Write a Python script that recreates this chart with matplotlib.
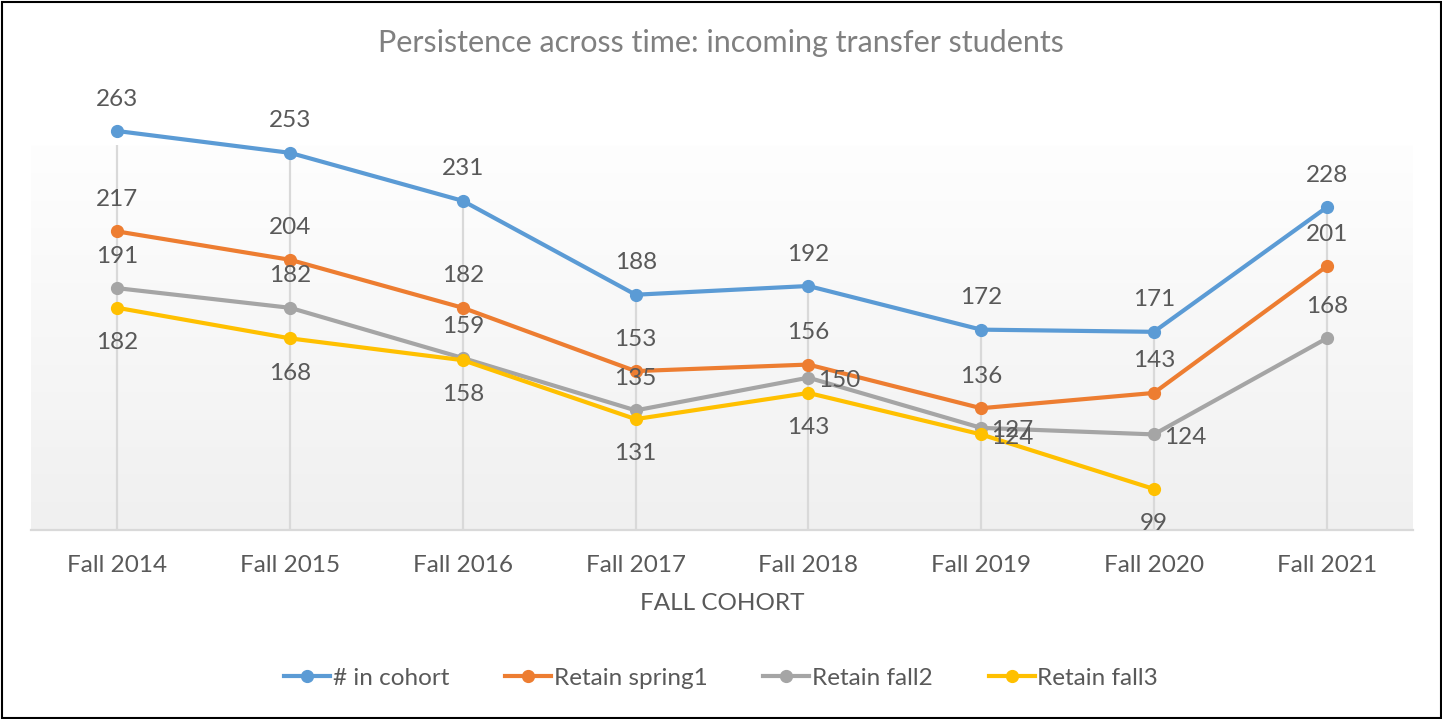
import numpy as np
import matplotlib
matplotlib.use('Agg')
import matplotlib.pyplot as plt
from matplotlib.patches import Rectangle

plt.rcParams['font.family'] = ['Lato', 'DejaVu Sans']

# данные
cohorts = ['Fall 2014', 'Fall 2015', 'Fall 2016', 'Fall 2017',
           'Fall 2018', 'Fall 2019', 'Fall 2020', 'Fall 2021']
in_cohort = [263, 253, 231, 188, 192, 172, 171, 228]
retain_spring1 = [217, 204, 182, 153, 156, 136, 143, 201]
retain_fall2 = [191, 182, 159, 135, 150, 127, 124, 168]
retain_fall3 = [182, 168, 158, 131, 143, 124, 99, np.nan]

series_names = ['# in cohort', 'Retain spring1', 'Retain fall2', 'Retain fall3']
colors = ['#5B9BD5', '#ED7D31', '#A5A5A5', '#FFC000']
# положение подписей: 'a' сверху, 'b' снизу, 'r' справа
label_pos = [
    ['a'] * 8,
    ['a'] * 8,
    ['a', 'a', 'a', 'a', 'r', 'r', 'r', 'a'],
    ['b', 'b', 'b', 'b', 'b', 'r', 'b', 'b'],
]

W, H = 1442, 719
fig = plt.figure(figsize=(W / 100, H / 100), dpi=100)
ax = fig.add_axes([31 / W, 1 - 530 / H, (1413 - 31) / W, (530 - 145) / H])

x = np.arange(len(cohorts))
ymin, ymax = 80.2, 256.6
ax.set_xlim(-0.5, len(cohorts) - 0.5)
ax.set_ylim(ymin, ymax)

# градиентный фон области построения
grad = np.linspace(1.0, 0.0, 256).reshape(-1, 1)
ax.imshow(grad, extent=[-0.5, len(cohorts) - 0.5, ymin, ymax], aspect='auto',
          cmap=matplotlib.colors.LinearSegmentedColormap.from_list('g', ['#f0f0f0', '#fefefe']),
          zorder=0)

data = [in_cohort, retain_spring1, retain_fall2, retain_fall3]

# линии проекции
tops = np.nanmax(np.array(data, dtype=float), axis=0)
ax.vlines(x, ymin, tops, color='#d9d9d9', lw=1.6, zorder=1)

fs = 17.5
for vals, name, c, pos in zip(data, series_names, colors, label_pos):
    ax.plot(x, vals, color=c, lw=3, marker='o', ms=8.5, label=name,
            zorder=3, clip_on=False)
    for xi, v, p in zip(x, vals, pos):
        if np.isnan(v):
            continue
        if p == 'a':
            off, ha = (0, 23), 'center'
        elif p == 'b':
            off, ha = (0, -25), 'center'
        else:
            off, ha = (7, -2), 'left'
        ax.annotate(str(v), (xi, v), xytext=off, textcoords='offset points',
                    ha=ha, va='center', fontsize=fs, color='#595959',
                    annotation_clip=False)

for s in ['left', 'right', 'top']:
    ax.spines[s].set_visible(False)
ax.spines['bottom'].set_color('#d9d9d9')
ax.spines['bottom'].set_linewidth(1.6)
ax.set_yticks([])
ax.set_xticks(x)
ax.set_xticklabels(cohorts, fontsize=fs, color='#595959')
ax.tick_params(axis='x', length=0, pad=18)
ax.set_xlabel('FALL COHORT', fontsize=fs, color='#595959', labelpad=12)

fig.text(0.5, 1 - 43 / H, 'Persistence across time: incoming transfer students',
         ha='center', va='center', fontsize=22, color='#808080')

fig.legend(loc='center', bbox_to_anchor=(0.5, 1 - 678 / H), ncol=4, frameon=False,
           fontsize=fs, labelcolor='#595959', handlelength=1.9, handletextpad=0.1,
           columnspacing=2.3)

# рамка вокруг рисунка
fig.patches.append(Rectangle((1.5 / W, 1.5 / H), 1 - 3 / W, 1 - 3 / H,
                             transform=fig.transFigure, fill=False,
                             edgecolor='black', lw=1.5))

fig.savefig('out.png', dpi=100)
